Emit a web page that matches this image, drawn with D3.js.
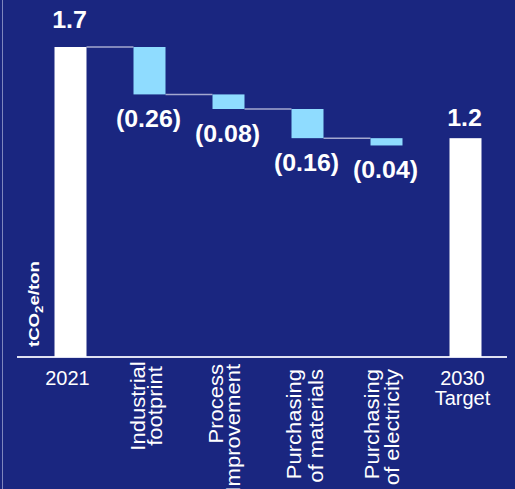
<!DOCTYPE html>
<html>
<head>
<meta charset="utf-8">
<script src="https://cdn.jsdelivr.net/npm/d3@7/dist/d3.min.js"></script>
<style>
  html, body { margin: 0; padding: 0; background: #1a2680; }
  svg { display: block; }
  text { font-family: "Liberation Sans", Arial, sans-serif; fill: #ffffff; }
</style>
</head>
<body>
<svg id="chart" width="515" height="489"></svg>
<script>
// Waterfall: CO2 intensity bridge from 2021 to the 2030 target
const categories = ["2021", "Industrial footprint", "Process Improvement",
                    "Purchasing of materials", "Purchasing of electricity", "2030 Target"];
const categoryLines = [["2021"], ["Industrial", "footprint"], ["Process", "Improvement"],
                       ["Purchasing", "of materials"], ["Purchasing", "of electricity"], ["2030", "Target"]];
const values = [1.7, -0.26, -0.08, -0.16, -0.04, 1.2];
const kinds = ["total", "delta", "delta", "delta", "delta", "total"];
const valueLabels = ["1.7", "(0.26)", "(0.08)", "(0.16)", "(0.04)", "1.2"];
const unitLabel = { main: "tCO", sub: "2", tail: "e/ton" };

const W = 515, H = 489;
const svg = d3.select("#chart");

const colors = {
  bg: "#1a2680",
  total: "#ffffff",
  delta: "#8fdcff",
  connector: "#a4a8cf",
  axis: "#dfe1f2",
  frame: "#7f86bd"
};

svg.append("rect").attr("width", W).attr("height", H).attr("fill", colors.bg);
svg.append("line").attr("x1", 2.5).attr("x2", 2.5).attr("y1", 0).attr("y2", H)
  .attr("stroke", colors.frame).attr("stroke-width", 1);

// Scales
const x = d3.scaleBand().domain(categories).range([31, 505])
  .paddingInner(0.595).paddingOuter(0.2975);
const y = d3.scaleLinear().domain([0, 1.7]).range([357, 47]);

// Compute bar extents
let running = 0;
const bars = categories.map((c, i) => {
  let lo, hi;
  if (kinds[i] === "total") {
    lo = 0; hi = values[i]; running = values[i];
  } else {
    hi = running; lo = running + values[i]; running = lo;
  }
  return { cat: c, i, lo, hi, kind: kinds[i], label: valueLabels[i], lines: categoryLines[i] };
});

// Baseline
svg.append("line")
  .attr("x1", 17).attr("x2", 507)
  .attr("y1", y(0)).attr("y2", y(0))
  .attr("stroke", colors.axis).attr("stroke-width", 2);

// Connectors between consecutive steps (2021 through the last reduction)
for (let i = 0; i < bars.length - 2; i++) {
  const level = bars[i].kind === "total" ? bars[i].hi : bars[i].lo;
  svg.append("line")
    .attr("x1", x(bars[i].cat) + x.bandwidth())
    .attr("x2", x(bars[i + 1].cat))
    .attr("y1", y(level)).attr("y2", y(level))
    .attr("stroke", colors.connector).attr("stroke-width", 1.5);
}

// Bars
svg.append("g").selectAll("rect").data(bars).join("rect")
  .attr("x", d => x(d.cat))
  .attr("width", x.bandwidth())
  .attr("y", d => y(d.hi))
  .attr("height", d => y(d.lo) - y(d.hi))
  .attr("fill", d => d.kind === "total" ? colors.total : colors.delta);

// Value labels
const totalGap = { 0: 19, 5: 12 };
svg.append("g").selectAll("text").data(bars).join("text")
  .attr("transform", d => {
    const tx = x(d.cat) + x.bandwidth() / 2 - 1;
    const ty = d.kind === "total" ? y(d.hi) - totalGap[d.i] : y(d.lo) + 33;
    return `translate(${tx},${ty}) scale(1.04,1)`;
  })
  .attr("text-anchor", "middle")
  .attr("font-size", 24)
  .attr("font-weight", "bold")
  .text(d => d.label);

// Category labels: totals horizontal, reductions rotated
const catG = svg.append("g");
bars.filter(d => d.kind === "total").forEach(d => {
  const cx = x(d.cat) + x.bandwidth() / 2 - 3;
  const t = catG.append("text")
    .attr("text-anchor", "middle")
    .attr("font-size", 20);
  d.lines.forEach((ln, k) => {
    t.append("tspan").attr("x", cx).attr("y", 385 + k * 20).text(ln);
  });
});

const rotLayout = {
  "Industrial footprint": { anchor: "middle", pos: 406, b1: -5, gap: 17 },
  "Process Improvement": { anchor: "end", pos: 364, b1: -6, gap: 17 },
  "Purchasing of materials": { anchor: "end", pos: 369, b1: -7, gap: 22 },
  "Purchasing of electricity": { anchor: "end", pos: 369, b1: -8, gap: 20 }
};
bars.filter(d => d.kind === "delta").forEach(d => {
  const cx = x(d.cat) + x.bandwidth() / 2;
  const L = rotLayout[d.cat];
  d.lines.forEach((ln, k) => {
    catG.append("text")
      .attr("transform", `translate(${cx + L.b1 + k * L.gap},${L.pos}) rotate(-90) scale(1.13,1)`)
      .attr("text-anchor", L.anchor)
      .attr("font-size", 19.5)
      .text(ln);
  });
});

// Unit label along the left edge
const unit = svg.append("text")
  .attr("transform", "translate(39,347) rotate(-90) scale(1.2,1)")
  .attr("font-size", 15.5)
  .attr("font-weight", "bold");
unit.append("tspan").text(unitLabel.main);
unit.append("tspan").attr("font-size", 11).attr("dy", 4).text(unitLabel.sub);
unit.append("tspan").attr("dy", -4).text(unitLabel.tail);
</script>
</body>
</html>
